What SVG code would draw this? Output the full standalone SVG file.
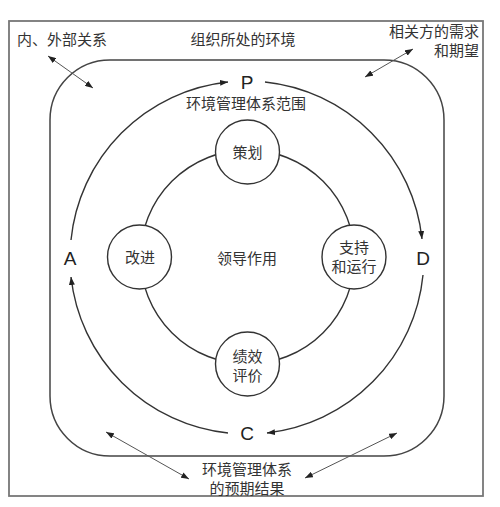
<svg xmlns="http://www.w3.org/2000/svg" width="500" height="507" viewBox="0 0 500 507">
<defs>
<style>
.t{font-family:"Noto Sans CJK SC","Noto Sans",sans-serif;font-size:15px;fill:#333;text-anchor:middle}
.l{font-family:"Liberation Sans","DejaVu Sans",sans-serif;font-size:19px;fill:#222;text-anchor:middle}
.arc{fill:none;stroke:#333;stroke-width:1.4;marker-end:url(#ah)}
.thin{fill:none;stroke:#555;stroke-width:1;marker-start:url(#sh);marker-end:url(#sh)}
.node{fill:#fff;stroke:#333;stroke-width:1.4}
</style>
<marker id="ah" markerUnits="userSpaceOnUse" markerWidth="8" markerHeight="6" refX="8" refY="3" orient="auto"><path d="M0,0 L8,3 L0,6 z" fill="#222"/></marker>
<marker id="sh" markerUnits="userSpaceOnUse" markerWidth="8" markerHeight="6" refX="8" refY="3" orient="auto-start-reverse"><path d="M0,0 L8,3 L0,6 z" fill="#222"/></marker>
</defs>
<rect width="500" height="507" fill="#fff"/>
<g id="frame">
<rect x="9" y="21" width="474" height="475" fill="none" stroke="#777" stroke-width="1.8"/>
<rect x="50" y="60" width="394" height="396" rx="60" ry="60" fill="none" stroke="#444" stroke-width="1.5"/>
</g>
<g id="labels">
<text class="t" x="62" y="44.5">内、外部关系</text>
<text class="t" x="243" y="44.5">组织所处的环境</text>
<text class="t" x="479" y="36.5" style="text-anchor:end">相关方的需求</text>
<text class="t" x="479" y="55.5" style="text-anchor:end">和期望</text>
<text class="t" x="246" y="108.5">环境管理体系范围</text>
<text class="t" x="247" y="475">环境管理体系</text>
<text class="t" x="247" y="494">的预期结果</text>
<text class="t" x="247" y="263.5">领导作用</text>
</g>
<g id="connectors">
<circle cx="247.5" cy="257" r="107" fill="none" stroke="#333" stroke-width="1.4"/>
<path class="arc" d="M71,240 A176.5,176.5 0 0 1 228,82"/>
<path class="arc" d="M265,82 A176.5,176.5 0 0 1 422,239"/>
<path class="arc" d="M423,275 A176.5,176.5 0 0 1 267,433"/>
<path class="arc" d="M228,433 A176.5,176.5 0 0 1 71,277"/>
<path class="thin" d="M48,56 L93,88"/>
<path class="thin" d="M413,49 L365,77"/>
<path class="thin" d="M106,432 L189,479"/>
<path class="thin" d="M397,433 L305,478"/>
</g>
<g id="P"><text class="l" x="247" y="88.5">P</text></g>
<g id="D"><text class="l" x="423" y="265">D</text></g>
<g id="C"><text class="l" x="247" y="440">C</text></g>
<g id="A"><text class="l" x="70" y="265">A</text></g>
<g id="n-plan"><circle class="node" cx="247.5" cy="152" r="32"/><text class="t" x="247.5" y="158">策划</text></g>
<g id="n-improve"><circle class="node" cx="139.5" cy="257" r="32"/><text class="t" x="140" y="263">改进</text></g>
<g id="n-support"><circle class="node" cx="354" cy="257" r="32"/><text class="t" x="354" y="253">支持</text><text class="t" x="354" y="272">和运行</text></g>
<g id="n-eval"><circle class="node" cx="247.5" cy="364" r="32"/><text class="t" x="247.5" y="362">绩效</text><text class="t" x="247.5" y="381">评价</text></g>
</svg>
